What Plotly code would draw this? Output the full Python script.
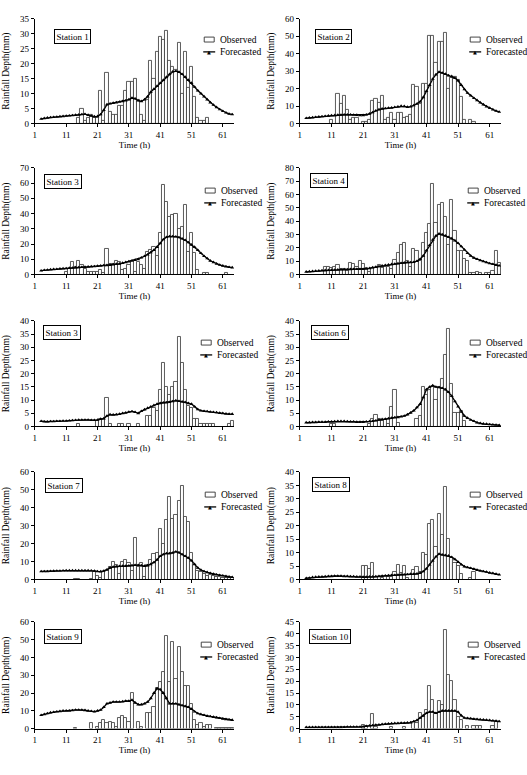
import plotly.graph_objects as go

# ---------------- data ----------------
HOURS = list(range(1, 65))
LINE_HOURS = list(range(3, 65))
X_TICKS = [1, 11, 21, 31, 41, 51, 61]
STATION_NAMES = ["Station 1", "Station 2", "Station 3", "Station 4", "Station 3",
                 "Station 6", "Station 7", "Station 8", "Station 9", "Station 10"]
SERIES_NAMES = ["Observed", "Forecasted"]
Y_MAX = [35, 60, 70, 80, 40, 40, 60, 40, 60, 45]
Y_DTICK = [5, 10, 10, 10, 5, 5, 10, 5, 10, 5]

OBS_1 = {15: 2, 16: 5, 17: 1, 18: 2, 19: 3, 20: 2, 21: 2, 22: 11, 23: 1, 24: 17, 25: 4, 26: 3, 27: 3,
         28: 6, 29: 6, 30: 11, 31: 14, 32: 14, 33: 15, 34: 8, 35: 3, 36: 1, 37: 8, 38: 21, 39: 15,
         40: 24, 41: 29, 42: 28, 43: 31, 44: 21, 45: 19, 46: 18, 47: 27, 48: 10, 49: 24, 50: 12,
         51: 19, 52: 9, 53: 2, 54: 1, 55: 1, 56: 2}
OBS_2 = {11: 2, 13: 17, 14: 11, 15: 16, 16: 8, 17: 2, 18: 3, 19: 3, 21: 1, 22: 1, 23: 2, 24: 13,
         25: 14, 26: 12, 27: 16, 28: 2, 29: 3, 30: 6, 31: 2, 32: 6, 33: 6, 34: 3, 35: 4, 36: 5,
         37: 22, 38: 21, 39: 11, 40: 23, 41: 23, 42: 50, 43: 50, 44: 35, 45: 47, 46: 47, 47: 52,
         48: 20, 49: 26, 50: 27, 51: 25, 52: 15, 53: 2, 55: 2, 56: 1}
OBS_3 = {11: 2, 12: 4, 13: 8, 14: 5, 15: 9, 16: 6, 17: 4, 18: 2, 19: 2, 20: 2, 21: 2, 22: 3, 23: 1,
         24: 17, 25: 7, 26: 7, 27: 9, 28: 8, 29: 3, 30: 4, 31: 6, 32: 9, 33: 2, 34: 8, 35: 6, 36: 4,
         37: 15, 38: 16, 39: 18, 40: 12, 41: 27, 42: 59, 43: 48, 44: 38, 45: 39, 46: 40, 47: 30,
         48: 31, 49: 46, 50: 15, 51: 27, 52: 14, 53: 3, 55: 1, 56: 1, 62: 1}
OBS_4 = {9: 6, 10: 6, 11: 5, 12: 6, 13: 7, 14: 4, 15: 4, 16: 3, 17: 9, 18: 8, 19: 6, 20: 10, 21: 8,
         22: 5, 23: 2, 24: 5, 25: 5, 26: 7, 27: 5, 28: 6, 29: 6, 30: 4, 31: 11, 32: 16, 33: 22,
         34: 24, 35: 10, 36: 6, 37: 19, 38: 18, 39: 10, 40: 24, 41: 31, 42: 38, 43: 68, 44: 39,
         45: 52, 46: 54, 47: 43, 48: 22, 49: 56, 50: 33, 51: 18, 52: 18, 53: 12, 54: 10, 55: 1,
         56: 1, 57: 2, 58: 1, 60: 1, 61: 1, 62: 3, 63: 18, 64: 9}
OBS_5 = {15: 1, 21: 2, 22: 3, 23: 3, 24: 11, 25: 1, 28: 1, 29: 1, 31: 1, 34: 1, 37: 4, 38: 4, 39: 7,
         40: 6, 41: 14, 42: 24, 43: 15, 44: 12, 45: 15, 46: 17, 47: 34, 48: 24, 49: 14, 50: 8,
         51: 7, 52: 3, 53: 3, 54: 1, 55: 1, 56: 1, 57: 1, 58: 1, 63: 1, 64: 2}
OBS_6 = {11: 1, 12: 1, 23: 1, 24: 3, 25: 4.5, 26: 3, 27: 2, 28: 2.5, 29: 1, 30: 7.5, 31: 14, 32: 1.5,
         38: 3, 39: 4, 40: 15, 41: 12, 42: 14, 43: 15, 44: 10, 45: 15, 46: 18, 47: 27, 48: 37,
         49: 16, 50: 5, 51: 5, 52: 6, 53: 2}
OBS_7 = {14: 0.5, 15: 0.5, 19: 0.5, 20: 4, 21: 2, 22: 1, 23: 4, 24: 5, 25: 7, 26: 10, 27: 8, 28: 3,
         29: 10, 30: 11, 31: 9, 32: 5, 33: 23, 34: 7, 35: 9, 36: 1.5, 37: 8, 38: 11, 39: 14, 40: 15,
         41: 28, 42: 20, 43: 33, 44: 46, 45: 34, 46: 36, 47: 44, 48: 52, 49: 35, 50: 32, 51: 15,
         52: 8, 53: 5, 54: 4, 55: 3, 56: 2, 57: 2.5, 58: 2, 59: 1.5, 60: 1.5, 61: 1, 62: 1, 63: 1, 64: 1}
OBS_8 = {21: 5, 22: 5, 23: 4, 24: 6, 25: 1, 27: 0.5, 29: 1, 30: 1, 31: 3, 32: 5.5, 33: 2.5, 34: 5,
         35: 0.5, 37: 3.5, 38: 4.5, 39: 3, 40: 10, 41: 9, 42: 20.5, 43: 22, 44: 12, 45: 24.5,
         46: 16.5, 47: 34.5, 48: 15, 49: 8, 50: 6, 51: 5, 52: 2, 55: 0.5, 56: 3}
OBS_9 = {14: 0.5, 19: 3, 21: 1, 22: 3, 23: 5, 24: 3, 25: 4, 26: 3, 27: 1, 28: 6, 29: 7, 30: 6, 31: 4,
         32: 20, 34: 4, 35: 1, 37: 9, 38: 9, 39: 12, 40: 23, 41: 26, 42: 32, 43: 52, 44: 26, 45: 49,
         46: 28, 47: 46, 48: 32, 49: 24, 50: 24, 51: 14, 52: 5, 53: 2, 54: 3, 55: 1, 56: 2, 57: 2,
         59: 0.5, 60: 0.5, 61: 0.5, 62: 0.5, 63: 0.5, 64: 0.5}
OBS_10 = {21: 1.5, 22: 1, 24: 6, 25: 0.5, 30: 0.5, 34: 0.5, 37: 3, 38: 2.5, 39: 6.5, 40: 5, 41: 8,
          42: 18, 43: 12, 44: 6, 45: 11.5, 46: 10, 47: 41.5, 48: 22.5, 49: 20, 50: 12, 51: 5,
          52: 3.5, 54: 1, 56: 1, 57: 1, 58: 1, 62: 1, 63: 3}

FC_1 = [1.5, 1.7, 1.9, 2.0, 2.1, 2.2, 2.3, 2.4, 2.5, 2.6, 2.7, 2.8, 2.9, 3.0, 3.1, 2.8, 2.5, 2.3, 2.4,
        3.0, 4.5, 6.3, 6.6, 6.8, 7.0, 7.2, 7.4, 7.6, 8.0, 8.5, 8.3, 7.6, 7.4, 8.0, 9.0, 10.5, 11.5,
        12.5, 13.5, 14.5, 15.5, 16.5, 17.3, 17.5, 17.2, 16.5, 15.5, 14.5, 13.5, 12.2, 11.0, 10.0,
        9.0, 8.0, 7.0, 6.2, 5.4, 4.7, 4.1, 3.6, 3.2, 3.0]
FC_2 = [3.0, 3.2, 3.4, 3.6, 3.8, 4.0, 4.2, 4.4, 4.6, 4.7, 4.8, 4.9, 5.0, 5.0, 5.0, 4.9, 4.8, 4.6, 4.7,
        5.0, 5.5, 6.3, 7.3, 8.0, 8.4, 8.6, 8.8, 9.0, 9.3, 9.6, 10.0, 9.8, 9.4, 9.6, 10.3, 11.2, 12.5,
        15.0, 18.5, 22.0, 25.5, 28.0, 29.5, 29.0, 28.3, 27.5, 27.0, 26.0, 24.5, 22.0, 19.5, 17.5,
        16.0, 14.5, 13.3, 12.0, 10.8, 9.7, 8.8, 8.0, 7.2, 6.6]
FC_3 = [2.5, 2.8, 3.0, 3.2, 3.4, 3.5, 3.7, 3.9, 4.0, 4.2, 4.3, 4.5, 4.6, 4.8, 4.9, 5.0, 5.2, 5.3, 5.5,
        5.7, 5.9, 6.0, 6.2, 6.5, 6.8, 7.0, 7.5, 8.0, 8.5, 9.0, 9.5, 10.0, 11.0, 12.0, 13.0, 14.5,
        16.0, 18.0, 20.5, 23.0, 24.5, 25.0, 25.0, 24.8, 24.3, 23.5, 22.5, 21.0, 19.5, 18.0, 16.0,
        14.0, 12.0, 10.5, 9.0, 8.0, 7.0, 6.3, 5.7, 5.2, 4.8, 4.5]
FC_4 = [2.0, 2.2, 2.4, 2.6, 2.8, 3.0, 3.1, 3.2, 3.3, 3.4, 3.5, 3.6, 3.7, 3.8, 3.9, 4.0, 4.0, 4.0, 4.0,
        4.2, 4.6, 5.2, 5.6, 6.0, 6.5, 7.0, 7.3, 7.6, 7.9, 8.2, 8.5, 8.8, 9.0, 9.0, 9.2, 10.0, 11.5,
        14.0, 18.0, 22.0, 26.0, 29.0, 30.5, 30.0, 29.0, 28.0, 27.0, 25.5, 23.5, 21.0, 18.5, 16.0,
        14.0, 12.5, 11.5, 10.5, 9.8, 9.0, 8.3, 7.7, 7.1, 6.6]
FC_5 = [2.0, 1.8, 1.8, 1.9, 1.9, 2.0, 2.0, 2.1, 2.1, 2.2, 2.3, 2.4, 2.5, 2.5, 2.5, 2.5, 2.4, 2.4, 2.5,
        2.8, 3.0, 4.0, 4.5, 4.4, 4.5, 4.7, 5.0, 5.2, 5.5, 5.7, 5.4, 5.0, 5.8, 6.4, 7.0, 7.5, 8.0,
        8.5, 8.8, 9.0, 9.0, 9.2, 9.5, 9.8, 9.6, 9.4, 9.2, 8.8, 8.5, 7.5, 6.5, 6.0, 5.8, 5.7, 5.5,
        5.4, 5.3, 5.1, 5.0, 4.8, 4.7, 4.7]
FC_6 = [1.5, 1.5, 1.6, 1.6, 1.7, 1.7, 1.7, 1.8, 1.8, 1.9, 2.0, 2.0, 2.0, 1.9, 1.8, 1.8, 1.7, 1.7, 1.7,
        1.8, 1.9, 2.0, 2.2, 2.5, 2.7, 2.8, 3.0, 3.2, 3.4, 3.5, 3.7, 4.0, 4.5, 5.2, 6.0, 7.2, 8.5,
        11.0, 14.0, 15.0, 15.5, 15.0, 14.8, 14.5, 14.0, 13.0, 11.5, 9.5, 7.5, 5.5, 4.0, 3.2, 2.5,
        2.0, 1.5, 1.2, 1.0, 0.9, 0.8, 0.7, 0.6, 0.5]
FC_7 = [4.5, 4.5, 4.5, 4.6, 4.7, 4.8, 4.8, 4.9, 5.0, 5.0, 5.0, 5.0, 5.0, 5.0, 5.0, 5.0, 4.9, 4.8, 4.5,
        4.4, 4.8, 5.5, 6.5, 7.0, 7.2, 7.4, 7.5, 7.5, 7.6, 7.8, 8.0, 8.0, 7.8, 7.5, 7.8, 8.5, 9.5,
        11.0, 13.0, 14.0, 14.5, 14.5, 14.8, 15.5, 15.0, 14.0, 13.0, 12.0, 10.5, 8.5, 6.5, 5.3, 4.5,
        4.0, 3.5, 3.0, 2.7, 2.4, 2.1, 1.8, 1.5, 1.3]
FC_8 = [0.5, 0.6, 0.8, 0.9, 1.0, 1.0, 1.1, 1.2, 1.2, 1.3, 1.3, 1.3, 1.2, 1.2, 1.1, 1.1, 1.0, 1.0, 0.9,
        0.9, 1.0, 1.0, 1.1, 1.2, 1.3, 1.4, 1.5, 1.6, 1.6, 1.7, 1.8, 1.8, 1.9, 2.0, 2.0, 2.1, 2.4,
        3.0, 4.0, 5.5, 7.0, 8.5, 9.5, 9.2, 9.0, 8.8, 8.3, 7.5, 6.5, 5.5, 4.8, 4.5, 4.2, 3.9, 3.5,
        3.2, 3.0, 2.8, 2.5, 2.3, 2.0, 1.8]
FC_9 = [7.5, 8.0, 8.5, 9.0, 9.2, 9.5, 9.7, 10.0, 10.0, 10.0, 10.2, 10.5, 10.5, 10.5, 10.3, 10.0, 9.8,
        9.5, 10.0, 10.5, 12.0, 14.0, 14.5, 15.0, 15.0, 15.0, 15.2, 15.5, 15.5, 16.0, 14.5, 13.5,
        13.5, 14.0, 15.0, 17.0, 20.0, 22.5, 22.0, 20.0, 17.0, 14.0, 14.0, 14.0, 13.5, 13.0, 12.5,
        12.0, 11.0, 9.5, 8.5, 8.0, 7.5, 7.0, 6.8, 6.5, 6.2, 5.8, 5.5, 5.2, 5.0, 4.8]
FC_10 = [0.5, 0.5, 0.5, 0.5, 0.5, 0.5, 0.5, 0.5, 0.5, 0.5, 0.5, 0.5, 0.6, 0.7, 0.7, 0.7, 0.7, 0.7,
         0.8, 1.0, 1.2, 1.3, 1.5, 1.6, 1.8, 1.9, 2.0, 2.1, 2.2, 2.2, 2.3, 2.3, 2.4, 2.5, 3.0, 3.5,
         4.5, 5.5, 6.5, 7.0, 7.0, 6.5, 7.0, 7.5, 7.5, 7.5, 7.5, 7.5, 7.0, 5.5, 4.5, 4.3, 4.2, 4.0,
         3.9, 3.8, 3.7, 3.6, 3.5, 3.3, 3.2, 3.0]

OBSERVED = [OBS_1, OBS_2, OBS_3, OBS_4, OBS_5, OBS_6, OBS_7, OBS_8, OBS_9, OBS_10]
FORECAST = [FC_1, FC_2, FC_3, FC_4, FC_5, FC_6, FC_7, FC_8, FC_9, FC_10]

# ---------------- layout geometry (pixels) ----------------
W, H = 527, 775
COL_X = [(33, 233), (299, 501)]
ROW_Y = [(14, 120), (165, 273), (320, 427), (473, 582), (625, 733)]
LABEL_POS = [(52, 32), (314, 32), (42, 179), (309, 178), (41, 332), (310, 332),
             (43, 487), (311, 486), (42, 640), (308, 640)]
LEGEND_TEXT_X = [217, 484, 218, 482, 214, 484, 218, 484, 214, 482]
LEGEND_ITEM_Y = [35, 35, 188, 188, 342, 342, 496, 496, 648, 648]
LEGEND_ROW_GAP = 12.5

FONT = "Liberation Serif, Times New Roman, serif"
BAR_EDGE = "#333333"


def px_x(p):
    return p / W


def px_y(p):
    return 1 - p / H


fig = go.Figure()
annotations, shapes = [], []
layout = dict(
    width=W, height=H, margin=dict(l=0, r=0, t=0, b=0),
    paper_bgcolor="white", plot_bgcolor="white",
    font=dict(family=FONT, size=9, color="black"),
    bargap=0, showlegend=False,
)

for i in range(10):
    n = i + 1
    sfx = "" if n == 1 else str(n)
    xa, ya = "x" + sfx, "y" + sfx
    obs = [OBSERVED[i].get(h) for h in HOURS]
    fig.add_trace(go.Bar(
        x=HOURS, y=obs, xaxis=xa, yaxis=ya, width=1, name=SERIES_NAMES[0],
        marker=dict(color="white", line=dict(color=BAR_EDGE, width=0.8)),
    ))
    fc = FORECAST[i]
    fig.add_trace(go.Scatter(
        x=LINE_HOURS[:len(fc)], y=fc, xaxis=xa, yaxis=ya, mode="lines+markers",
        name=SERIES_NAMES[1],
        line=dict(color="black", width=1.3),
        marker=dict(symbol="triangle-up", size=3.5, color="black"),
    ))
    col, row = i % 2, i // 2
    x0, x1 = COL_X[col]
    y0, y1 = ROW_Y[row]
    layout["xaxis" + sfx] = dict(
        domain=[px_x(x0), px_x(x1)], anchor=ya, range=[1, 64.6],
        tickvals=X_TICKS, ticks="outside", ticklen=3, tickwidth=1, tickcolor="black",
        showline=True, linecolor="black", linewidth=1, showgrid=False, zeroline=False,
        tickfont=dict(size=9, family=FONT),
        title=dict(text="Time (h)", font=dict(size=9, family=FONT), standoff=2),
    )
    layout["yaxis" + sfx] = dict(
        domain=[px_y(y1), px_y(y0)], anchor=xa, range=[0, Y_MAX[i]], dtick=Y_DTICK[i],
        ticks="outside", ticklen=3, tickwidth=1, tickcolor="black",
        showline=True, linecolor="black", linewidth=1, showgrid=False, zeroline=False,
        tickfont=dict(size=9, family=FONT),
        title=dict(text="Rainfall Depth(mm)", font=dict(size=9.5, family=FONT), standoff=8),
    )

    # station label box
    lx, ly = LABEL_POS[i]
    annotations.append(dict(
        text=STATION_NAMES[i], xref="paper", yref="paper", x=px_x(lx), y=px_y(ly),
        xanchor="left", yanchor="middle", showarrow=False,
        bordercolor="black", borderwidth=1, borderpad=1.5, bgcolor="white",
        font=dict(size=9, family=FONT),
    ))

    # legend (drawn as paper-space decorations)
    tx = LEGEND_TEXT_X[i]
    oy = LEGEND_ITEM_Y[i]
    fy = oy + LEGEND_ROW_GAP
    shapes.append(dict(type="rect", xref="paper", yref="paper",
                       x0=px_x(tx - 14), x1=px_x(tx - 4), y0=px_y(oy + 2.5), y1=px_y(oy - 2.5),
                       line=dict(color=BAR_EDGE, width=0.9), fillcolor="white"))
    shapes.append(dict(type="line", xref="paper", yref="paper",
                       x0=px_x(tx - 15), x1=px_x(tx - 3), y0=px_y(fy), y1=px_y(fy),
                       line=dict(color="black", width=1.3)))
    annotations.append(dict(
        text="▲", xref="paper", yref="paper", x=px_x(tx - 9), y=px_y(fy),
        xanchor="center", yanchor="middle", showarrow=False,
        font=dict(size=5, family="DejaVu Sans", color="black"),
    ))
    for name, yy in zip(SERIES_NAMES, [oy, fy]):
        annotations.append(dict(
            text=name, xref="paper", yref="paper", x=px_x(tx), y=px_y(yy),
            xanchor="left", yanchor="middle", showarrow=False,
            font=dict(size=9.5, family=FONT),
        ))

layout["annotations"] = annotations
layout["shapes"] = shapes
fig.update_layout(**layout)
fig.write_html("out.html")
